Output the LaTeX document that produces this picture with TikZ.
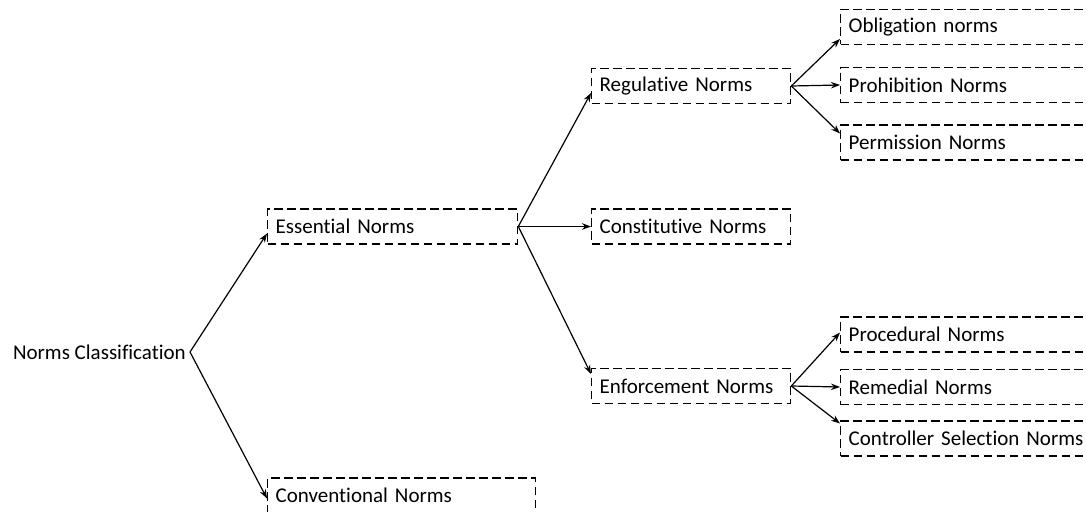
\documentclass[tikz,border=0pt]{standalone}
\usepackage{fontspec}
\setmainfont{Carlito}[Ligatures=NoCommon]
\usetikzlibrary{arrows.meta}
\begin{document}
\begin{tikzpicture}[x=1pt,y=-1pt,
  font=\fontsize{21}{25}\selectfont,
  catbox/.style={draw, line width=1.3pt, dash pattern=on 8.5pt off 4.5pt,
    anchor=west, align=left, minimum height=35pt, inner xsep=8pt, inner ysep=0pt},
  link/.style={line width=1.2pt, -{Stealth[length=9pt,width=6.5pt]}}]
\useasboundingbox (0,0) rectangle (1086,511);
\clip (0,0) rectangle (1086,511);

% root
\node[anchor=east, inner sep=4pt] (nc) at (190,352) {Norms Classification};

% second level
\node[catbox, text width=234pt] (ess) at (267,226.5) {Essential Norms};
\node[catbox, text width=252pt] (conv) at (267,495.5) {Conventional Norms};

% third level
\node[catbox, text width=183pt] (reg) at (591,86) {Regulative Norms};
\node[catbox, text width=183pt] (con) at (591,226.5) {Constitutive Norms};
\node[catbox, text width=183pt] (enf) at (591,386) {Enforcement Norms};

% leaves
\node[catbox, text width=250pt] (obl) at (840,27) {Obligation norms};
\node[catbox, text width=250pt] (pro) at (840,85) {Prohibition Norms};
\node[catbox, text width=250pt] (per) at (840,142.5) {Permission Norms};
\node[catbox, text width=250pt] (proc) at (840,334.5) {Procedural Norms};
\node[catbox, text width=250pt] (rem) at (840,387) {Remedial Norms};
\node[catbox, text width=250pt] (ctl) at (840,438.5) {Controller Selection Norms};

% connectors
\draw[link] (nc.east) -- ([yshift=-7pt]ess.west);
\draw[link] (nc.east) -- ([yshift=-3pt]conv.west);
\draw[link] (ess.east) -- ([yshift=-7pt]reg.west);
\draw[link] (ess.east) -- (con.west);
\draw[link] (ess.east) -- ([yshift=12pt]enf.west);
\draw[link] (reg.east) -- ([yshift=-12pt]obl.west);
\draw[link] (reg.east) -- (pro.west);
\draw[link] (reg.east) -- ([yshift=9pt]per.west);
\draw[link] (enf.east) -- ([yshift=2pt]proc.west);
\draw[link] (enf.east) -- (rem.west);
\draw[link] (enf.east) -- ([yshift=15pt]ctl.west);
\end{tikzpicture}
\end{document}
